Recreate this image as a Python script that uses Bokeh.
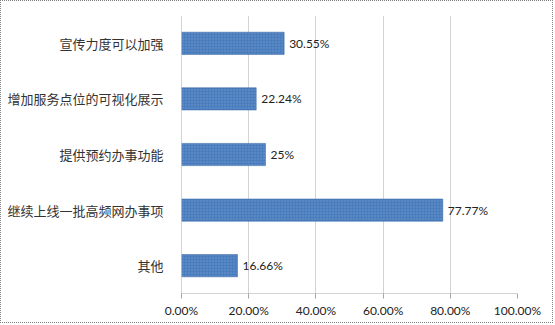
from bokeh.plotting import figure
from bokeh.models import ColumnDataSource, NumeralTickFormatter, FixedTicker, LabelSet
from bokeh.core.properties import value
from bokeh.embed import file_html
from bokeh.resources import INLINE

categories = ["宣传力度可以加强", "增加服务点位的可视化展示", "提供预约办事功能", "继续上线一批高频网办事项", "其他"]
values = [0.3055, 0.2224, 0.25, 0.7777, 0.1666]
value_labels = ["30.55%", "22.24%", "25%", "77.77%", "16.66%"]
x_ticks = [0, 0.2, 0.4, 0.6, 0.8, 1.0]

src = ColumnDataSource(dict(cat=categories, val=values, lab=value_labels))

p = figure(width=553, height=323, output_backend="svg", toolbar_location=None,
           y_range=list(reversed(categories)), x_range=(0, 1.0),
           min_border_left=180, min_border_right=37, min_border_top=14, min_border_bottom=31,
           styles={"border": "1px dotted #808080"})

p.hbar(y="cat", right="val", left=0, height=0.4, source=src,
       fill_color="#4a7dbd", line_color="#3a6aa6", line_width=0.5,
       hatch_pattern="dot", hatch_color="#6f97cc", hatch_scale=3, hatch_weight=0.6)

labels = LabelSet(x="val", y="cat", text="lab", source=src, x_offset=5,
                  text_baseline="middle", text_font=value("Lato"), text_font_size="12px",
                  text_color="#222222")
p.add_layout(labels)

p.outline_line_color = None
p.xgrid.ticker = FixedTicker(ticks=x_ticks)
p.xgrid.grid_line_color = "#a6a6a6"
p.xgrid.grid_line_dash = "1 1"
p.ygrid.grid_line_color = None

p.xaxis.ticker = FixedTicker(ticks=x_ticks)
p.xaxis.formatter = NumeralTickFormatter(format="0.00%")
p.xaxis.axis_line_color = "#a6a6a6"
p.xaxis.axis_line_dash = "1 1"
p.xaxis.major_tick_line_color = "#a6a6a6"
p.xaxis.major_tick_out = 5
p.xaxis.major_tick_in = 0
p.xaxis.minor_tick_line_color = None
p.xaxis.major_label_text_font = "Lato"
p.xaxis.major_label_text_font_size = "12px"
p.xaxis.major_label_text_color = "#222222"
p.xaxis.major_label_standoff = 4

p.yaxis.axis_line_color = "#a6a6a6"
p.yaxis.axis_line_dash = "1 1"
p.yaxis.major_tick_line_color = None
p.yaxis.minor_tick_line_color = None
p.yaxis.major_label_text_font = "Noto Sans CJK SC"
p.yaxis.major_label_text_font_size = "13px"
p.yaxis.major_label_text_color = "#333333"
p.yaxis.major_label_standoff = 12

open("out.html", "w").write(file_html(p, INLINE))
